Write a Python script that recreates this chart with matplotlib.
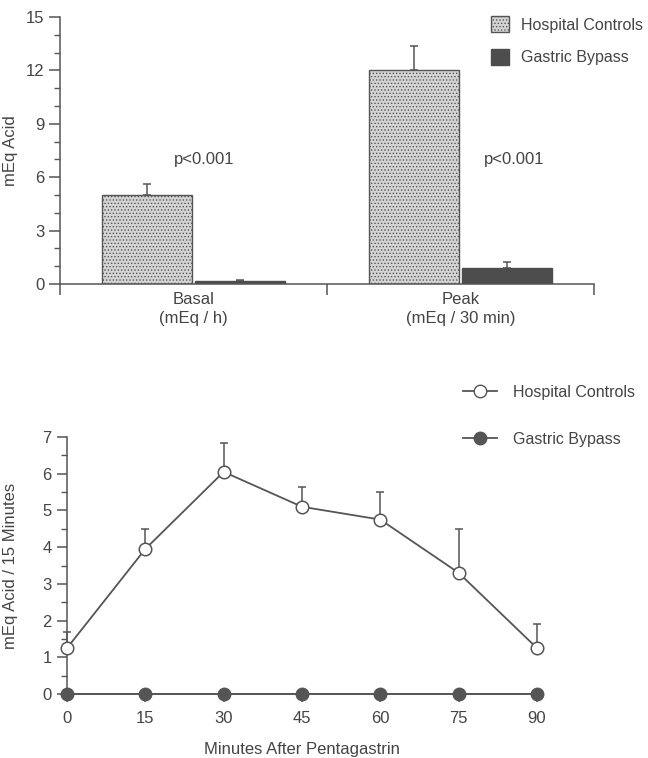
import numpy as np
import matplotlib
matplotlib.use("Agg")
import matplotlib.pyplot as plt
from matplotlib.patches import Patch
from matplotlib.lines import Line2D

plt.rcParams['font.family'] = ['Liberation Sans', 'DejaVu Sans']
plt.rcParams['hatch.color'] = '#a0a0a0'
plt.rcParams['hatch.linewidth'] = 0.6

# --- data: bar chart (acid output) ---
groups = ['Basal\n(mEq / h)', 'Peak\n(mEq / 30 min)']
hc_bar = [5.0, 12.0]
hc_bar_err = [0.6, 1.35]
gb_bar = [0.15, 0.9]
gb_bar_err = [0.07, 0.33]
p_labels = ['p<0.001', 'p<0.001']

# --- data: time course ---
minutes = [0, 15, 30, 45, 60, 75, 90]
hc_line = [1.25, 3.95, 6.05, 5.1, 4.75, 3.3, 1.25]
hc_line_err = [0.45, 0.55, 0.8, 0.55, 0.75, 1.2, 0.65]
gb_line = [0, 0, 0, 0, 0, 0, 0]

ink = '#555555'
txt = '#444444'
fs = 12
lfs = 11.5
W, H = 648, 758

fig = plt.figure(figsize=(W / 100, H / 100), dpi=100)
fig.patch.set_facecolor('white')

def style(ax):
    for s in ['top', 'right']:
        ax.spines[s].set_visible(False)
    for s in ['left', 'bottom']:
        ax.spines[s].set_color(ink)
        ax.spines[s].set_linewidth(1.1)
    ax.tick_params(colors=ink, labelcolor=txt, labelsize=fs, width=1.1)
    ax.tick_params(which='minor', colors=ink, width=1.0)

# ---------- top panel ----------
ax1 = fig.add_axes([60 / W, 1 - 284 / H, (594 - 60) / W, (284 - 17) / H])
style(ax1)
centers = np.array([0.5, 1.5])
bw = 0.337
off = 0.175
ax1.bar(centers - off, hc_bar, width=bw, color='#d4d4d4', edgecolor=ink,
        linewidth=1.0, hatch='.....', zorder=2)
ax1.bar(centers + off, gb_bar, width=bw, color='#4d4d4d', edgecolor='#4d4d4d',
        linewidth=1.0, zorder=2)
ax1.errorbar(centers - off, hc_bar, yerr=[np.zeros(2), hc_bar_err], fmt='none',
             ecolor=ink, elinewidth=1.1, capsize=3, capthick=1.1, zorder=1)
ax1.errorbar(centers + off, gb_bar, yerr=[np.zeros(2), gb_bar_err], fmt='none',
             ecolor=ink, elinewidth=1.1, capsize=3, capthick=1.1, zorder=1)
for xp, p in zip([0.54, 1.70], p_labels):
    ax1.text(xp, 7.0, p, ha='center', va='center', fontsize=fs, color=txt)
ax1.set_xlim(0, 2)
ax1.set_ylim(0, 15)
ax1.set_yticks([0, 3, 6, 9, 12, 15])
ax1.set_yticks(np.arange(0, 16, 1), minor=True)
ax1.set_xticks([0, 1, 2])
ax1.set_xticklabels([])
ax1.tick_params(axis='y', which='major', length=8, pad=3)
ax1.tick_params(axis='y', which='minor', length=4)
ax1.tick_params(axis='x', length=8, direction='out')
for c, g in zip(centers, groups):
    ax1.text(c, -0.45, g, ha='center', va='top', fontsize=fs, color=txt,
             linespacing=1.35)
ax1.set_ylabel('mEq Acid', fontsize=fs, color=txt)
ax1.yaxis.set_label_coords((18 - 60) / (594 - 60), 0.5)

leg1 = ax1.legend(handles=[Patch(facecolor='#d4d4d4', edgecolor=ink, hatch='.....'),
                           Patch(facecolor='#4d4d4d', edgecolor='#4d4d4d')],
                  labels=['Hospital Controls', 'Gastric Bypass'],
                  loc='upper left', bbox_to_anchor=(491 / W, 1 - 16 / H),
                  bbox_transform=fig.transFigure, frameon=False, fontsize=lfs,
                  handlelength=1.15, handleheight=1.2, handletextpad=0.75,
                  labelspacing=1.0, borderpad=0, borderaxespad=0)
for t in leg1.get_texts():
    t.set_color(txt)

# ---------- bottom panel ----------
ax2 = fig.add_axes([67 / W, 1 - 694 / H, (537 - 67) / W, (694 - 437) / H])
style(ax2)
ax2.errorbar(minutes, hc_line, yerr=[np.zeros(7), hc_line_err], fmt='none',
             ecolor=ink, elinewidth=1.1, capsize=3, capthick=1.1, zorder=2,
             clip_on=False)
ax2.plot(minutes, hc_line, '-o', color=ink, lw=1.3, ms=9, mfc='white',
         mec=ink, mew=1.1, zorder=3, clip_on=False)
ax2.plot(minutes, gb_line, '-o', color=ink, lw=1.3, ms=9, mfc=ink,
         mec=ink, zorder=4, clip_on=False)
ax2.set_xlim(0, 90)
ax2.set_ylim(0, 7)
ax2.set_xticks(minutes)
ax2.set_yticks(range(8))
ax2.set_yticks(np.arange(0, 7.01, 0.5), minor=True)
ax2.tick_params(axis='y', which='major', length=7, pad=4)
ax2.tick_params(axis='y', which='minor', length=4)
ax2.tick_params(axis='x', length=6, pad=6)
ax2.set_xlabel('Minutes After Pentagastrin', fontsize=fs, color=txt, labelpad=12)
ax2.set_ylabel('mEq Acid / 15 Minutes', fontsize=fs, color=txt)
ax2.yaxis.set_label_coords((18 - 67) / (537 - 67), 0.5)

leg2 = ax2.legend(handles=[Line2D([], [], color=ink, lw=1.3, marker='o', ms=9,
                                  mfc='white', mec=ink),
                           Line2D([], [], color=ink, lw=1.3, marker='o', ms=9,
                                  mfc=ink, mec=ink)],
                  labels=['Hospital Controls', 'Gastric Bypass'],
                  loc='upper left', bbox_to_anchor=(463 / W, 1 - 385 / H),
                  bbox_transform=fig.transFigure, frameon=False, fontsize=lfs,
                  handlelength=2.1, handletextpad=1.0, labelspacing=2.0,
                  borderpad=0, borderaxespad=0)
for t in leg2.get_texts():
    t.set_color(txt)

fig.savefig('out.png', dpi=100, facecolor='white')
